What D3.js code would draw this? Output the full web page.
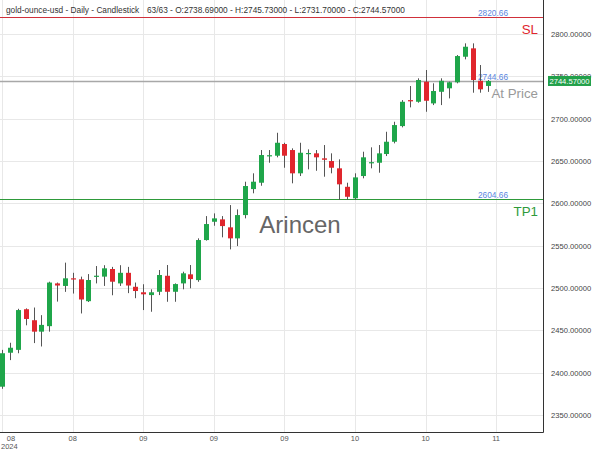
<!DOCTYPE html>
<html><head><meta charset="utf-8">
<script src="https://cdn.jsdelivr.net/npm/d3@7"></script>
<style>html,body{margin:0;padding:0;background:#fff;}svg{display:block;font-family:"Liberation Sans",Arial,sans-serif;}</style>
</head><body>
<script>
const opens  = [2383.5,2423.6,2427,2475,2462,2448.5,2455,2505.5,2502.5,2511.5,2510.3,2484.5,2514,2513.5,2522.5,2505.5,2518,2501.5,2495,2491.7,2495.6,2514.5,2495.6,2505.5,2516.2,2509.4,2556.7,2578.3,2581.1,2571.7,2558.7,2586.2,2616.9,2624.4,2656,2656.3,2670.1,2663,2635.5,2658.3,2659.1,2653.2,2650,2641.4,2619.6,2606,2632.3,2647.5,2648,2658.3,2672.8,2691.3,2722,2720,2743.7,2718.1,2731.8,2735.9,2743,2773.2,2783.1,2744.8,2738.69];
const highs  = [2427,2435.4,2475.5,2476,2477,2468,2507.5,2506.5,2530,2518,2513.5,2516.5,2526,2527,2525,2527,2525,2506.5,2504.5,2498.5,2521.3,2527.2,2505.5,2519.3,2527.2,2558.7,2585,2588.2,2585,2598,2592.9,2625.6,2635.5,2663,2663,2683.4,2671.6,2665,2671.6,2663.8,2663,2668.9,2659.1,2652,2624.4,2635.5,2661,2666.2,2668.9,2684.6,2696.4,2722,2738.6,2747.7,2757.5,2741.8,2747.7,2743.7,2775.2,2789,2789,2763.4,2745.73];
const lows   = [2381,2414.9,2423,2456,2435,2431,2448.5,2484,2495.5,2493.5,2470,2483.5,2505.5,2502.5,2491.5,2502.5,2494,2488,2474,2472,2491.7,2483.8,2483.8,2498.5,2499.7,2507.4,2556,2573.6,2559.9,2545.7,2549.6,2582.3,2611.9,2620.8,2648,2654.4,2642.1,2623.7,2632.3,2640.2,2638.5,2631.5,2635.5,2604,2604,2604,2629.6,2641.4,2636.2,2655.9,2670.9,2689.8,2713.4,2718.9,2708.2,2716.1,2716.1,2724,2741.8,2770.1,2730.7,2730.7,2731.7];
const closes = [2423,2429.5,2474,2463.5,2448.5,2456.5,2506.5,2503,2511.5,2510.3,2486.5,2509.5,2514.6,2523.3,2507.5,2518,2503,2496.5,2492.6,2495,2515.4,2495.6,2504.7,2517.4,2510.6,2556.7,2575.6,2582.3,2573.2,2558.7,2586.2,2620.5,2625.6,2657.1,2656.9,2671.6,2656.3,2635.5,2659.8,2659.5,2654.4,2651.5,2642.1,2622.5,2607.8,2630.7,2654.4,2648.7,2659.1,2672.8,2692.5,2720,2720.5,2745.7,2721.2,2732.7,2744.8,2743,2774,2785,2745.7,2734.7,2744.57];
const xTickIndex  = [0,9,18,27,36,45,54,63];
const xTickLabels = ["08","08","09","09","09","10","10","11"];
const yearLabel = "2024";
const yTicks = [2350,2400,2450,2500,2550,2600,2650,2700,2750,2800];
const levelValues = [2820.66, 2744.66, 2604.66];
const levelNames  = ["SL", "At Price", "TP1"];
const lastPrice = 2744.57;
const titleLeft = "gold-ounce-usd - Daily - Candlestick";
const titleRight = "63/63 - O:2738.69000 - H:2745.73000 - L:2731.70000 - C:2744.57000";

const W = 600, H = 450, plotR = 543, plotB = 432;
const GREEN = "#1fa64a", RED = "#e0262d";
const levelColors = ["#e0262d", "#999999", "#2e9a3a"];
const lineColors  = ["#d0303a", "#a8a8a8", "#2e9a3a"];

const svg = d3.select("body").append("svg").attr("width", W).attr("height", H);
svg.append("rect").attr("width", W).attr("height", H).attr("fill", "#fff");

const x = d3.scaleLinear().domain([0, 63]).range([2.2, 2.2 + 7.84 * 63]);
const y = d3.scaleLinear().domain([2330, 2840.2]).range([plotB, 0]);

const g = svg.append("g");
g.selectAll("line.hg").data(yTicks).join("line")
  .attr("x1", 0).attr("x2", plotR).attr("y1", d => Math.round(y(d)) + 0.5).attr("y2", d => Math.round(y(d)) + 0.5)
  .attr("stroke", "#e8e8e8").attr("stroke-width", 1);
g.selectAll("line.vg").data(xTickIndex).join("line")
  .attr("y1", 0).attr("y2", plotB).attr("x1", d => Math.round(x(d)) + 0.5).attr("x2", d => Math.round(x(d)) + 0.5)
  .attr("stroke", "#e8e8e8").attr("stroke-width", 1);

svg.append("text").attr("x", 6).attr("y", 13).attr("font-size", 8.3).attr("fill", "#333").text(titleLeft);
svg.append("text").attr("x", 147).attr("y", 13).attr("font-size", 8.3).attr("fill", "#333").text(titleRight);

svg.append("text").attr("x", 300).attr("y", 233).attr("text-anchor", "middle").attr("font-size", 24)
  .attr("fill", "#666").text("Arincen");

levelValues.forEach((v, i) => {
  const ly = Math.round(y(v)) + 0.5;
  svg.append("line").attr("x1", 0).attr("x2", plotR).attr("y1", ly).attr("y2", ly)
    .attr("stroke", lineColors[i]).attr("stroke-width", i === 1 ? 1.5 : 1);
  svg.append("text").attr("x", 493).attr("y", ly - 2).attr("text-anchor", "middle").attr("font-size", 8.3)
    .attr("fill", "#5b86e0").text(v.toFixed(2));
  svg.append("text").attr("x", 538).attr("y", ly + 16).attr("text-anchor", "end").attr("font-size", 13.3)
    .attr("fill", levelColors[i]).text(levelNames[i]);
});

const idx = d3.range(opens.length);
const cg = svg.append("g");
cg.selectAll("line.wick").data(idx).join("line")
  .attr("x1", i => Math.round(x(i)) + 0.5).attr("x2", i => Math.round(x(i)) + 0.5)
  .attr("y1", i => y(highs[i])).attr("y2", i => y(lows[i]))
  .attr("stroke", "#555").attr("stroke-width", 1);
cg.selectAll("rect.body").data(idx).join("rect")
  .attr("x", i => Math.round(x(i)) - 2)
  .attr("width", 5)
  .attr("y", i => y(Math.max(opens[i], closes[i])))
  .attr("height", i => Math.max(1.2, Math.abs(y(opens[i]) - y(closes[i]))))
  .attr("fill", i => closes[i] >= opens[i] ? GREEN : RED);

svg.append("line").attr("x1", plotR + 0.5).attr("x2", plotR + 0.5).attr("y1", 0).attr("y2", plotB + 0.5).attr("stroke", "#333");
svg.append("line").attr("x1", 0).attr("x2", plotR + 0.5).attr("y1", plotB + 0.5).attr("y2", plotB + 0.5).attr("stroke", "#333");

svg.selectAll("text.yl").data(yTicks).join("text")
  .attr("x", 551).attr("y", d => y(d) + 3).attr("font-size", 7.6).attr("fill", "#444")
  .text(d => d.toFixed(5));

const py = y(lastPrice);
svg.append("rect").attr("x", 548).attr("y", py - 5).attr("width", 43).attr("height", 10).attr("fill", "#22a04a");
svg.append("text").attr("x", 569.5).attr("y", py + 3).attr("text-anchor", "middle").attr("font-size", 7.6)
  .attr("fill", "#fff").text(lastPrice.toFixed(5));

svg.selectAll("text.xl").data(xTickIndex).join("text")
  .attr("x", (d, i) => Math.max(11, x(d))).attr("y", 440.5).attr("text-anchor", "middle")
  .attr("font-size", 7.5).attr("fill", "#555").text((d, i) => xTickLabels[i]);
svg.append("text").attr("x", 1).attr("y", 448.5).attr("text-anchor", "start").attr("font-size", 7.5)
  .attr("fill", "#555").text(yearLabel);
</script>
</body></html>
